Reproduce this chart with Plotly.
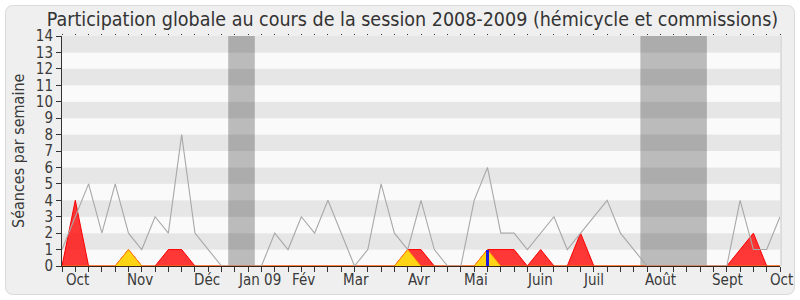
import plotly.graph_objects as go

# ---- data (one value per week, session 2008-2009) ----
weeks = list(range(55))
total_seances = [1, 3, 5, 2, 5, 2, 1, 3, 2, 8, 2, 1, 0, 0, 0, 0, 2, 1, 3, 2,
                 4, 2, 0, 1, 5, 2, 1, 4, 1, 0, 0, 4, 6, 2, 2, 1, 2, 3, 1, 2,
                 3, 4, 2, 1, 0, 0, 0, 0, 0, 0, 0, 4, 1, 1, 3]
presences_rouge = [0, 4, 0, 0, 0, 1, 0, 0, 1, 1, 0, 0, 0, 0, 0, 0, 0, 0, 0, 0,
                   0, 0, 0, 0, 0, 0, 1, 1, 0, 0, 0, 0, 1, 1, 1, 0, 1, 0, 0, 2,
                   0, 0, 0, 0, 0, 0, 0, 0, 0, 0, 0, 1, 2, 0, 0]
presences_jaune = [0, 0, 0, 0, 0, 1, 0, 0, 0, 0, 0, 0, 0, 0, 0, 0, 0, 0, 0, 0,
                   0, 0, 0, 0, 0, 0, 1, 0, 0, 0, 0, 0, 1, 0, 0, 0, 0, 0, 0, 0,
                   0, 0, 0, 0, 0, 0, 0, 0, 0, 0, 0, 0, 0, 0, 0]
interventions_weeks = [32]
interventions_vals = [1]
vacances = [(12.5, 14.5), (43.5, 48.5)]
month_labels = ["Oct", "Nov", "Déc", "Jan 09", "Fév", "Mar", "Avr", "Mai",
                "Juin", "Juil", "Août", "Sept", "Oct"]
month_pos = [1.13, 5.89, 10.92, 14.89, 18.14, 22.13, 26.86, 31.15,
             35.96, 39.95, 44.98, 50.02, 54.08]
y_ticks = list(range(15))

N_WEEKS = 54
FONT = "DejaVu Sans Condensed, DejaVu Sans, sans-serif"
W, H = 800, 300
ML, MR, MT, MB = 62, 20, 36, 34
PW, PH = W - ML - MR, H - MT - MB


def px2paper(px, py):
    return (px - ML) / PW, (H - MB - py) / PH


def rounded_path(x0, y0, x1, y1, r):
    def P(x, y):
        a, b = px2paper(x, y)
        return f"{a:.5f},{b:.5f}"
    return (f"M {P(x0 + r, y0)} L {P(x1 - r, y0)} Q {P(x1, y0)} {P(x1, y0 + r)} "
            f"L {P(x1, y1 - r)} Q {P(x1, y1)} {P(x1 - r, y1)} "
            f"L {P(x0 + r, y1)} Q {P(x0, y1)} {P(x0, y1 - r)} "
            f"L {P(x0, y0 + r)} Q {P(x0, y0)} {P(x0 + r, y0)} Z")


fig = go.Figure()

fig.add_trace(go.Scatter(x=weeks, y=presences_rouge, mode="lines",
                         fill="tozeroy", fillcolor="rgba(255,0,0,0.78)",
                         line=dict(color="#ff0000", width=1), hoverinfo="skip"))
fig.add_trace(go.Scatter(x=weeks, y=presences_jaune, mode="lines",
                         fill="tozeroy", fillcolor="#ffd414",
                         line=dict(color="#ff8a00", width=0.8), hoverinfo="skip"))
fig.add_trace(go.Scatter(x=weeks, y=total_seances, mode="lines",
                         line=dict(color="#a8a8a8", width=1.1), hoverinfo="skip"))
# interventions bar on overlaid axis so it sits above the filled areas
fig.add_trace(go.Bar(x=interventions_weeks, y=interventions_vals, width=0.25,
                     xaxis="x2", marker=dict(color="#1c1ce0", line=dict(width=0)),
                     hoverinfo="skip"))

shapes = []
shapes.append(dict(type="path", xref="paper", yref="paper", layer="below",
                   path=rounded_path(5.5, 5.5, 794.5, 294.5, 8),
                   fillcolor="#efefef", line=dict(color="#d9d9d9", width=1)))
for k in range(14):
    shapes.append(dict(type="rect", xref="x", yref="y", layer="below",
                       x0=0, x1=N_WEEKS, y0=k, y1=k + 1, line=dict(width=0),
                       fillcolor="#e6e6e6" if k % 2 == 1 else "#fafafa"))
for a, b in vacances:
    shapes.append(dict(type="rect", xref="x", yref="y", layer="below",
                       x0=a, x1=b, y0=0, y1=14, line=dict(width=0),
                       fillcolor="rgba(0,0,0,0.25)"))
shapes.append(dict(type="line", xref="paper", yref="paper", x0=1.0015, x1=1.0015,
                   y0=0, y1=1, line=dict(color="#cccccc", width=1)))

annotations = []
for lab, pos in zip(month_labels, month_pos):
    annotations.append(dict(x=pos / N_WEEKS, y=0, xref="paper", yref="paper", text=lab,
                            showarrow=False, xanchor="center", yanchor="top",
                            yshift=-3, font=dict(family=FONT, size=15, color="#3a3a3a")))
annotations.append(dict(x=px2paper(18, 0)[0], y=0.5, xref="paper", yref="paper",
                        text="Séances par semaine", textangle=-90, showarrow=False,
                        xanchor="center", yanchor="middle",
                        font=dict(family=FONT, size=16, color="#3a3a3a")))

fig.update_layout(
    width=W, height=H,
    margin=dict(l=ML, r=MR, t=MT, b=MB, pad=0),
    paper_bgcolor="#ffffff", plot_bgcolor="rgba(0,0,0,0)",
    showlegend=False,
    title=dict(text="Participation globale au cours de la session 2008-2009 (hémicycle et commissions)",
               x=412.5 / W, xref="container", xanchor="center",
               y=1 - 19.5 / H, yref="container", yanchor="middle",
               font=dict(family=FONT, size=19.5, color="#333333")),
    shapes=shapes, annotations=annotations,
    xaxis=dict(range=[0, N_WEEKS], tickmode="linear", tick0=0, dtick=1,
               showticklabels=False, ticks="outside", ticklen=5, tickcolor="#333333",
               showgrid=False, zeroline=False, showline=True, linecolor="#3a2418",
               linewidth=1, fixedrange=True),
    xaxis2=dict(range=[0, N_WEEKS], overlaying="x", side="top", tickmode="linear",
                tick0=0, dtick=1, showticklabels=False, ticks="outside", ticklen=1,
                tickcolor="#333333", showgrid=False, zeroline=False, showline=False),
    yaxis=dict(range=[0, 14], tickmode="array", tickvals=y_ticks,
               ticktext=[str(v) for v in y_ticks], ticks="outside", ticklen=5,
               tickcolor="#333333", showgrid=False, zeroline=False, showline=True,
               linecolor="#333333", linewidth=1,
               tickfont=dict(family=FONT, size=15, color="#3a3a3a")),
    bargap=0,
)

fig.write_html("out.html")
